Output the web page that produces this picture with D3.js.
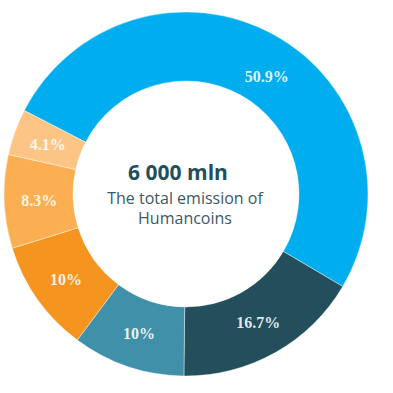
<!DOCTYPE html>
<html>
<head>
<meta charset="utf-8">
<script src="https://cdn.jsdelivr.net/npm/d3@7"></script>
<style>
  body { margin: 0; background: #fff; }
</style>
</head>
<body>
<svg id="chart" width="393" height="393"></svg>
<script>
// slice data
const labels = ["50.9%", "16.7%", "10%", "10%", "8.3%", "4.1%"];
const values = [50.9, 16.7, 10, 10, 8.3, 4.1];
const colors = ["#00adee", "#234f5d", "#3f90a8", "#f59520", "#fcae53", "#fdc585"];
const centerTitle = "6 000 mln";
const centerLines = ["The total emission of", "Humancoins"];

const svg = d3.select("#chart");
const cx = 186, cy = 194;
const outerR = 182, innerR = 113;
const startA = -62.7 * Math.PI / 180;

const pie = d3.pie().sort(null).value(d => d)
  .startAngle(startA).endAngle(startA + 2 * Math.PI);
const arcs = pie(values);

const arc = d3.arc().innerRadius(innerR).outerRadius(outerR);

const g = svg.append("g").attr("transform", `translate(${cx},${cy})`);

g.selectAll("path.slice")
  .data(arcs)
  .join("path")
  .attr("class", "slice")
  .attr("d", arc)
  .attr("fill", (d, i) => colors[i])
  .attr("stroke", "#fff")
  .attr("stroke-width", 0.4);

// big slice label sits a bit further round in the original
g.selectAll("text.lbl")
  .data(arcs)
  .join("text")
  .attr("class", "lbl")
  .attr("transform", (d, i) => {
    let a = (d.startAngle + d.endAngle) / 2;
    let r = 147;
    if (i == 0) { a += 5.5 * Math.PI / 180; r = 143; }
    return `translate(${r * Math.sin(a)},${-r * Math.cos(a)})`;
  })
  .attr("text-anchor", "middle")
  .attr("dy", "0.35em")
  .style("font-family", "'Liberation Serif', serif")
  .style("font-weight", "bold")
  .style("font-size", "16px")
  .style("fill", "#fff")
  .style("fill-opacity", 0.88)
  .text((d, i) => labels[i]);

// center text
g.append("text")
  .attr("x", -8).attr("y", -14)
  .attr("text-anchor", "middle")
  .style("font-family", "'Open Sans', sans-serif")
  .style("font-weight", "bold")
  .style("font-size", "21px")
  .style("fill", "#234f5d")
  .text(centerTitle);

g.selectAll("text.sub")
  .data(centerLines)
  .join("text")
  .attr("class", "sub")
  .attr("x", -1)
  .attr("y", (d, i) => 10 + i * 20)
  .attr("text-anchor", "middle")
  .style("font-family", "'Open Sans', sans-serif")
  .style("font-size", "16px")
  .style("fill", "#3d5866")
  .text(d => d);
</script>
</body>
</html>
